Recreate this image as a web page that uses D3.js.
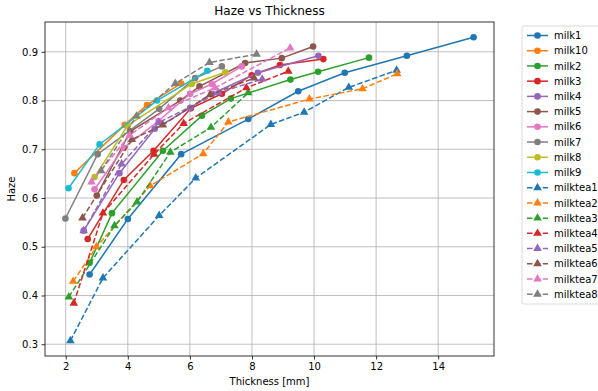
<!DOCTYPE html>
<html>
<head>
<meta charset="utf-8">
<script src="https://cdn.jsdelivr.net/npm/d3@7"></script>
<style>
  body { margin: 0; background: #fff; }
  text { font-family: "DejaVu Sans", sans-serif; }
</style>
</head>
<body>
<svg id="chart" width="598" height="391"></svg>
<script>
// [thickness mm, haze]
const milk1 = [[2.77,0.443],[4.0,0.557],[5.72,0.69],[7.88,0.762],[9.49,0.819],[10.99,0.857],[12.99,0.892],[15.14,0.93]]
const milk10 = [[2.28,0.651],[3.9,0.75],[4.62,0.791],[5.72,0.835]]
const milk2 = [[2.77,0.467],[3.49,0.569],[5.13,0.697],[6.39,0.769],[7.32,0.804],[9.24,0.843],[10.13,0.859],[11.77,0.888]]
const milk3 = [[2.71,0.516],[3.87,0.637],[4.83,0.697],[6.03,0.784],[7.03,0.814],[7.99,0.852],[8.9,0.873],[10.3,0.885]]
const milk4 = [[2.58,0.533],[3.73,0.651],[4.87,0.742],[6.01,0.785],[6.71,0.814],[8.19,0.857],[10.14,0.892]]
const milk5 = [[3.0,0.605],[4.08,0.737],[5.69,0.80],[6.31,0.829],[7.78,0.877],[8.96,0.887],[9.97,0.911]]
const milk6 = [[2.93,0.618],[3.87,0.703],[4.99,0.758],[6.01,0.814],[6.71,0.834],[7.67,0.870]]
const milk7 = [[1.99,0.558],[3.03,0.69],[5.01,0.783],[6.17,0.846],[7.03,0.870]]
const milk8 = [[2.93,0.643],[4.0,0.749],[6.06,0.834],[7.14,0.858]]
const milk9 = [[2.09,0.62],[3.09,0.71],[4.94,0.80],[6.56,0.861]]
const milktea1 = [[2.15,0.307],[3.2,0.436],[5.01,0.564],[6.19,0.641],[8.61,0.751],[9.68,0.776],[11.12,0.827],[12.66,0.862]]
const milktea2 = [[2.24,0.429],[2.99,0.50],[4.72,0.625],[6.43,0.691],[7.24,0.756],[9.85,0.803],[11.56,0.824],[12.68,0.855]]
const milktea3 = [[2.1,0.397],[3.57,0.543],[4.3,0.592],[5.37,0.694],[6.68,0.745],[7.88,0.816]]
const milktea4 = [[2.26,0.384],[3.2,0.569],[4.85,0.69],[5.8,0.753],[7.82,0.826],[9.17,0.86]]
const milktea5 = [[2.58,0.533],[3.8,0.67],[5.0,0.755],[6.92,0.816],[8.33,0.844]]
const milktea6 = [[2.54,0.559],[4.13,0.72],[5.13,0.75],[6.65,0.812],[8.07,0.846]]
const milktea7 = [[2.83,0.633],[4.06,0.729],[5.31,0.785],[6.81,0.826],[9.23,0.908]]
const milktea8 = [[3.14,0.656],[4.28,0.768],[5.53,0.835],[6.63,0.878],[8.15,0.895]]

const names = ["milk1","milk10","milk2","milk3","milk4","milk5","milk6","milk7","milk8","milk9",
  "milktea1","milktea2","milktea3","milktea4","milktea5","milktea6","milktea7","milktea8"]
const values = [milk1,milk10,milk2,milk3,milk4,milk5,milk6,milk7,milk8,milk9,
  milktea1,milktea2,milktea3,milktea4,milktea5,milktea6,milktea7,milktea8]
const xTicks = [2,4,6,8,10,12,14]
const yTicks = [0.3,0.4,0.5,0.6,0.7,0.8,0.9]

const colors = ["#1f77b4","#ff7f0e","#2ca02c","#d62728","#9467bd","#8c564b","#e377c2","#7f7f7f","#bcbd22","#17becf"]

const series = names.map((n,i)=>({
  name: n,
  pts: values[i],
  color: colors[i < 10 ? i : i-10],
  tea: i >= 10
}))

const svg = d3.select("#chart")
const m = {left:45, right:494, top:22, bottom:356}

// matplotlib style 5% margins
const allX = values.flat().map(d=>d[0]), allY = values.flat().map(d=>d[1])
const pad = (lo,hi)=>[lo-(hi-lo)*0.05, hi+(hi-lo)*0.05]
const x = d3.scaleLinear().domain(pad(d3.min(allX),d3.max(allX))).range([m.left,m.right])
const y = d3.scaleLinear().domain(pad(d3.min(allY),d3.max(allY))).range([m.bottom,m.top])

// grid
const g = svg.append("g")
g.selectAll(".vx").data(xTicks).join("line")
  .attr("x1",d=>x(d)).attr("x2",d=>x(d)).attr("y1",m.top).attr("y2",m.bottom)
  .attr("stroke","#b0b0b0").attr("stroke-width",0.8)
g.selectAll(".hy").data(yTicks).join("line")
  .attr("y1",d=>y(d)).attr("y2",d=>y(d)).attr("x1",m.left).attr("x2",m.right)
  .attr("stroke","#b0b0b0").attr("stroke-width",0.8)

// axes
const xAxis = d3.axisBottom(x).tickValues(xTicks).tickFormat(d3.format("d")).tickSize(3.5).tickPadding(3.5)
const yAxis = d3.axisLeft(y).tickValues(yTicks).tickFormat(d3.format(".1f")).tickSize(3.5).tickPadding(3.5)
svg.append("g").attr("transform",`translate(0,${m.bottom})`).call(xAxis)
svg.append("g").attr("transform",`translate(${m.left},0)`).call(yAxis)
svg.selectAll(".tick text").attr("font-size",10).attr("fill","#000").style("font-family","DejaVu Sans")
svg.selectAll(".tick line").attr("stroke","#000").attr("stroke-width",0.8)
svg.selectAll(".domain").remove()

const line = d3.line().x(d=>x(d[0])).y(d=>y(d[1]))
const tri = d3.symbol().type(d3.symbolTriangle).size(32)

series.forEach(s=>{
  const sg = svg.append("g")
  sg.append("path").attr("d",line(s.pts)).attr("fill","none")
    .attr("stroke",s.color).attr("stroke-width",1.5)
    .attr("stroke-dasharray",s.tea ? "5.5,2.4" : null)
  if(s.tea){
    sg.selectAll("path.m").data(s.pts).join("path").attr("class","m")
      .attr("d",tri).attr("transform",d=>`translate(${x(d[0])},${y(d[1])})`)
      .attr("fill",s.color)
  } else {
    sg.selectAll("circle").data(s.pts).join("circle")
      .attr("cx",d=>x(d[0])).attr("cy",d=>y(d[1])).attr("r",3.3).attr("fill",s.color)
  }
})

// frame
svg.append("rect").attr("x",m.left).attr("y",m.top)
  .attr("width",m.right-m.left).attr("height",m.bottom-m.top)
  .attr("fill","none").attr("stroke","#000").attr("stroke-width",0.8)

// labels
svg.append("text").attr("x",(m.left+m.right)/2).attr("y",15).attr("text-anchor","middle")
  .attr("font-size",12).text("Haze vs Thickness")
svg.append("text").attr("x",(m.left+m.right)/2).attr("y",385).attr("text-anchor","middle")
  .attr("font-size",10).text("Thickness [mm]")
svg.append("text").attr("transform",`translate(15,${(m.top+m.bottom)/2}) rotate(-90)`)
  .attr("text-anchor","middle").attr("font-size",10).text("Haze")

// legend
const lg = svg.append("g").attr("transform","translate(522,26)")
lg.append("rect").attr("x",0).attr("y",0).attr("width",90).attr("height",278).attr("rx",2)
  .attr("fill","#fff").attr("stroke","#d0d0d0").attr("stroke-width",0.8)
series.forEach((s,i)=>{
  const ly = 9.5 + i*15.22
  const it = lg.append("g").attr("transform",`translate(0,${ly})`)
  it.append("line").attr("x1",5).attr("x2",26).attr("y1",0).attr("y2",0)
    .attr("stroke",s.color).attr("stroke-width",1.5)
    .attr("stroke-dasharray",s.tea ? "5.5,2.4" : null)
  if(s.tea) it.append("path").attr("d",tri).attr("transform","translate(15.5,0)").attr("fill",s.color)
  else it.append("circle").attr("cx",15.5).attr("cy",0).attr("r",3.3).attr("fill",s.color)
  it.append("text").attr("x",32).attr("y",3.6).attr("font-size",10).text(s.name)
})
</script>
</body>
</html>
